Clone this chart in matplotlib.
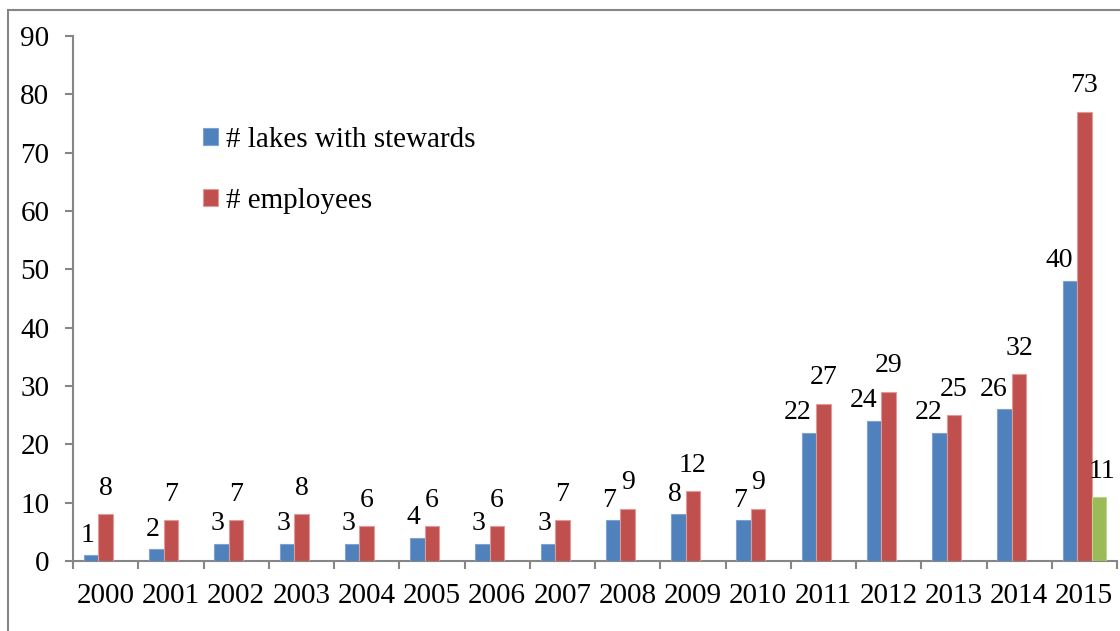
import matplotlib
matplotlib.use("Agg")
import matplotlib.pyplot as plt
from matplotlib.patches import Rectangle
import numpy as np

years = ['2000', '2001', '2002', '2003', '2004', '2005', '2006', '2007',
         '2008', '2009', '2010', '2011', '2012', '2013', '2014', '2015']
lakes = [1, 2, 3, 3, 3, 4, 3, 3, 7, 8, 7, 22, 24, 22, 26, 48]
employees = [8, 7, 7, 8, 6, 6, 6, 7, 9, 12, 9, 27, 29, 25, 32, 77]
lakes_labels = ['1', '2', '3', '3', '3', '4', '3', '3', '7', '8', '7', '22', '24', '22', '26', '40']
employees_labels = ['8', '7', '7', '8', '6', '6', '6', '7', '9', '12', '9', '27', '29', '25', '32', '73']
extra_years = ['2015']
extra_values = [11]
extra_labels = ['11']

BLUE = '#4F81BD'
RED = '#C0504D'
GREEN = '#9BBB59'
GRAY = '#868686'

plt.rcParams['font.family'] = ['Liberation Serif', 'DejaVu Serif']

W, H = 1120, 631
fig = plt.figure(figsize=(W / 100, H / 100), dpi=100)

# outer chart border
fig.patches.append(Rectangle((8 / W, -0.1), 1.2, 1 - 10 / H + 0.1,
                             transform=fig.transFigure, fill=False,
                             edgecolor=GRAY, linewidth=1.5, zorder=0))

ax = fig.add_axes([73 / W, (H - 561) / H, (1117 - 73) / W, (561 - 36) / H])

x = np.arange(len(years))
w = 0.222
b1 = ax.bar(x - w, lakes, width=w, color=BLUE, edgecolor='#7FA3D0', linewidth=0.8,
            label='# lakes with stewards', zorder=3)
b2 = ax.bar(x, employees, width=w, color=RED, edgecolor='#E09A98', linewidth=0.8,
            label='# employees', zorder=3)
xe = np.array([years.index(y) for y in extra_years])
b3 = ax.bar(xe + w, extra_values, width=w, color=GREEN, edgecolor='#BCD48F',
            linewidth=0.8, zorder=3)

fs_val = 20
for xi, v, t in zip(x, lakes, lakes_labels):
    ax.annotate(t, (xi - w / 2, v), xytext=(-3, 14.5), textcoords='offset points',
                ha='right', va='center', fontsize=fs_val)
for xi, v, t in zip(x, employees, employees_labels):
    ax.annotate(t, (xi, v), xytext=(0, 18.7), textcoords='offset points',
                ha='center', va='center', fontsize=fs_val)
for xi, v, t in zip(xe, extra_values, extra_labels):
    ax.annotate(t, (xi + w, v), xytext=(2, 18), textcoords='offset points',
                ha='center', va='center', fontsize=fs_val)

ax.set_xlim(-0.5, len(years) - 0.5)
ax.set_ylim(0, 90)
ax.set_yticks(np.arange(0, 91, 10))
ax.set_xticks(x)
ax.set_xticklabels(years)
ax.set_xticks(np.arange(-0.5, len(years), 1), minor=True)

for s in ['top', 'right']:
    ax.spines[s].set_visible(False)
for s in ['left', 'bottom']:
    ax.spines[s].set_color(GRAY)
    ax.spines[s].set_linewidth(1.5)

ax.tick_params(axis='y', direction='out', length=6, width=1.5, color=GRAY,
               labelsize=21, pad=11)
ax.tick_params(axis='x', which='major', length=0, labelsize=21, pad=16)
ax.tick_params(axis='x', which='minor', direction='out', length=6, width=1.5, color=GRAY)

leg = ax.legend(handles=[b1, b2], loc='upper left',
                bbox_to_anchor=((203 - 73) / (1117 - 73), 1 - (127 - 36) / (561 - 36)),
                frameon=False, fontsize=21, handlelength=0.5, handleheight=0.5,
                handletextpad=0.3, labelspacing=1.2, borderpad=0, borderaxespad=0)

fig.savefig('out.png', dpi=100)
